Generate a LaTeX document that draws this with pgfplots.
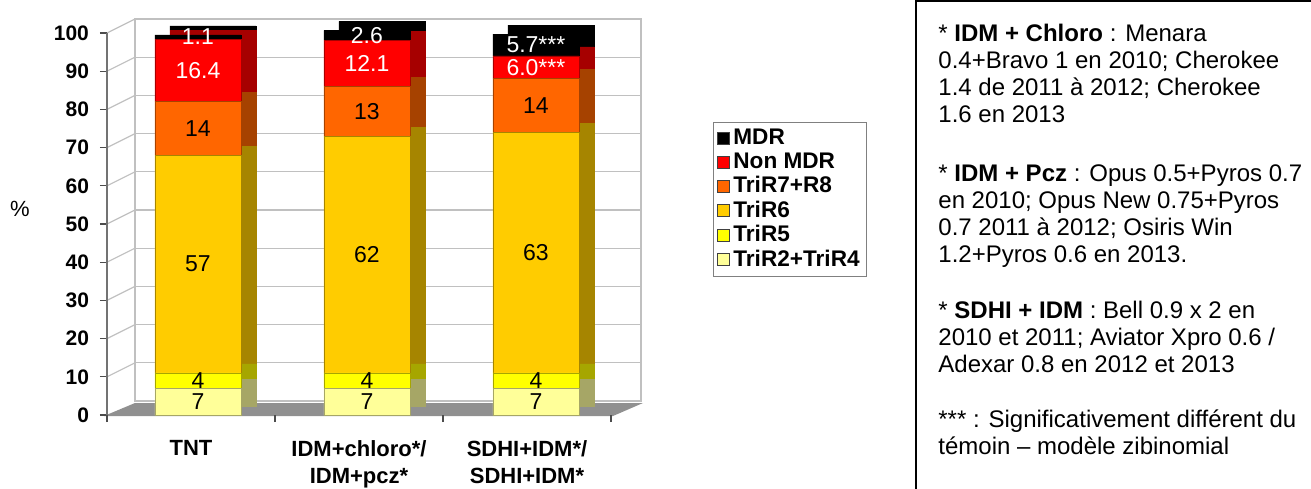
\documentclass[border=0pt]{standalone}
\usepackage{fontspec}
\setmainfont{Liberation Sans}
\usepackage{pgfplots}
\usepackage{pgfplotstable}
\pgfplotsset{compat=1.18}

% front colours and the darker side colours
\definecolor{c24}{HTML}{FFFF99}
\definecolor{c5}{HTML}{FFFF00}
\definecolor{c6}{HTML}{FFCC00}
\definecolor{c78}{HTML}{FF6600}
\definecolor{cnon}{HTML}{FF0000}
\definecolor{cmdr}{HTML}{000000}
\definecolor{d24}{HTML}{A6A666}
\definecolor{d5}{HTML}{A6A600}
\definecolor{d6}{HTML}{A68500}
\definecolor{d78}{HTML}{A64200}
\definecolor{dnon}{HTML}{A60000}
\definecolor{gridc}{HTML}{C0C0C0}
\definecolor{floorc}{HTML}{909090}

\pgfplotstableread{
x r24 r5 r6 r78 non mdr lnon lmdr
0 7 4 57 14 16.4 1.1 16.4 1.1
1 7 4 62 13 12.1 2.6 12.1 2.6
2 7 4 63 14 6.0 5.7 6.0*** 5.7***
}\resist

\pgfplotsset{
  base/.style={
    scale only axis, width=253pt, height=191pt,
    anchor=south west,
    xmin=-0.538, xmax=2.456, ymin=0, ymax=100,
  },
  lab/.style={
    nodes near coords, point meta=explicit symbolic,
    every node near coord/.append style={anchor=center,
      font=\fontsize{11.5}{13}\selectfont},
  },
}

\begin{document}
\begin{tikzpicture}
\useasboundingbox (0,0) rectangle (655.5pt,244pt);

% back wall
\begin{axis}[base, at={(67.5pt,43.5pt)},
  ytick={0,10,...,100}, xtick=\empty, yticklabels={},
  ymajorgrids, grid style={gridc, line width=0.6pt},
  axis line style={gridc, line width=0.6pt}, major tick length=0pt]
\end{axis}

% left wall and floor
\foreach \k in {1,...,10}
  \draw[gridc, line width=0.6pt] (53.5pt,{36.5pt+\k*19.1pt}) -- ++(14pt,7pt);
\fill[floorc] (52pt,36pt) -- (306.5pt,36pt) -- (321.5pt,42.5pt) -- (67.5pt,42.5pt) -- cycle;

% side faces of the bars
\begin{axis}[base, at={(61pt,41pt)}, hide axis, clip=false,
  ybar stacked, bar width=43pt]
\addplot[fill=d24, draw=d24] table[x=x,y=r24]{\resist};
\addplot[fill=d5, draw=d5] table[x=x,y=r5]{\resist};
\addplot[fill=d6, draw=d6] table[x=x,y=r6]{\resist};
\addplot[fill=d78, draw=d78] table[x=x,y=r78]{\resist};
\addplot[fill=dnon, draw=dnon] table[x=x,y=non]{\resist};
\addplot[fill=black, draw=black] table[x=x,y=mdr]{\resist};
\end{axis}

% front of the bars
\begin{axis}[base, at={(53.5pt,36.5pt)}, clip=false,
  ybar stacked, bar width=43pt,
  axis y line*=left, axis x line*=bottom,
  x axis line style={draw=none},
  y axis line style={draw=black!55, line width=0.6pt},
  tick align=outside, major tick length=3.5pt,
  tick style={black!70, line width=0.6pt},
  ytick={0,10,...,100},
  /pgf/number format/assume math mode=true,
  yticklabel style={font=\bfseries\fontsize{10.5}{12}\selectfont, xshift=-2pt},
  xtick={-0.538,0.456,1.45,2.444}, xticklabels={},
  extra x ticks={-0.041,0.953,1.947},
  extra x tick labels={TNT,{IDM+chloro*/\\IDM+pcz*},{SDHI+IDM*/\\SDHI+IDM*}},
  extra x tick style={major tick length=0pt,
    xticklabel style={align=center, font=\bfseries\fontsize{11}{13.5}\selectfont, yshift=-9pt}},
  ylabel={\%},
  ylabel style={rotate=-90, at={(rel axis cs:0,0.54)}, anchor=center, xshift=-43.5pt,
    font=\fontsize{11}{13}\selectfont},
  reverse legend,
  legend cell align=left,
  legend style={at={(1.198,0.767)}, anchor=north west, draw=black!50,
    font=\bfseries\fontsize{11.3}{12.5}\selectfont, inner sep=1.5pt, row sep=-1.5pt},
  legend image code/.code={\draw[#1, draw=black!75, line width=0.4pt] (0pt,-3pt) rectangle (6pt,3pt);},
]
\addplot[fill=c24, draw=d24, lab] table[x=x,y=r24,meta=r24]{\resist};
\addlegendentry{TriR2+TriR4}
\addplot[fill=c5, draw=d5, lab] table[x=x,y=r5,meta=r5]{\resist};
\addlegendentry{TriR5}
\addplot[fill=c6, draw=d6, lab] table[x=x,y=r6,meta=r6]{\resist};
\addlegendentry{TriR6}
\addplot[fill=c78, draw=d78, lab] table[x=x,y=r78,meta=r78]{\resist};
\addlegendentry{TriR7+R8}
\addplot[fill=cnon, draw=dnon, lab, every node near coord/.append style={text=white}] table[x=x,y=non,meta=lnon]{\resist};
\addlegendentry{Non MDR}
\addplot[fill=cmdr, draw=black, lab, every node near coord/.append style={text=white}] table[x=x,y=mdr,meta=lmdr]{\resist};
\addlegendentry{MDR}
\end{axis}

% notes box
\draw[line width=1pt] (458pt,-5pt) -- (458pt,243.3pt) -- (660pt,243.3pt);
\node[anchor=north west, align=left, inner sep=0pt,
  font=\fontsize{12}{13.5}\selectfont] at (469pt,232pt) {%
* \textbf{IDM + Chloro} : Menara\\
0.4+Bravo 1 en 2010; Cherokee\\
1.4 de 2011 à 2012; Cherokee\\
1.6 en 2013\\[16pt]
* \textbf{IDM + Pcz} : Opus 0.5+Pyros 0.7\\
en 2010; Opus New 0.75+Pyros\\
0.7 2011 à 2012; Osiris Win\\
1.2+Pyros 0.6 en 2013.\\[14.5pt]
* \textbf{SDHI + IDM} : Bell 0.9 x 2 en\\
2010 et 2011; Aviator Xpro 0.6 /\\
Adexar 0.8 en 2012 et 2013\\[14pt]
*** : Significativement différent du\\
témoin – modèle zibinomial};
\end{tikzpicture}
\end{document}
